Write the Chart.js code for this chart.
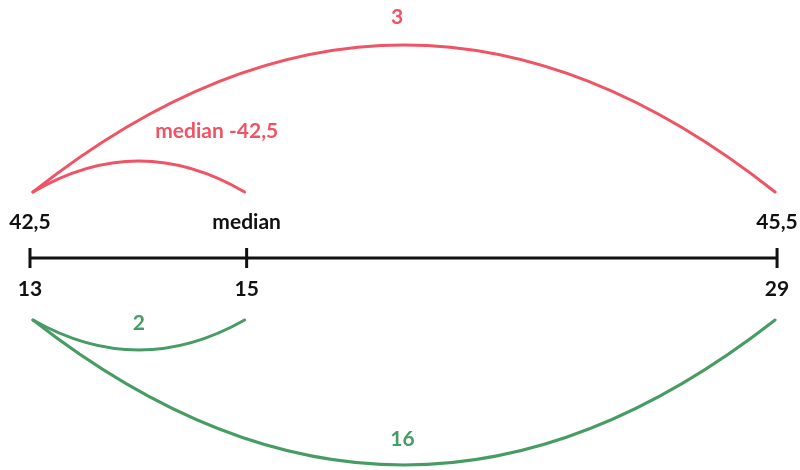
<!DOCTYPE html>
<html>
<head>
<meta charset="utf-8">
<script src="https://cdn.jsdelivr.net/npm/chart.js"></script>
<style>
body { margin: 0; background: #fff; }
#wrap { width: 800px; height: 470px; }
</style>
</head>
<body>
<div id="wrap"><canvas id="diag"></canvas></div>
<script>
// number line: tick places, values under it, labels above it
var tickPos = [0, 2.03, 7];
var valueLabels = ['13', '15', '29'];
var topLabels = ['42,5', 'median', '45,5'];

// arcs above the line (red) : [from tick, to tick]
var upArcs = [[0, 2], [0, 1]];
var upArcLabels = ['3', 'median -42,5'];
var upArcHeights = [147, 31];

// arcs below the line (green)
var downArcs = [[0, 1], [0, 2]];
var downArcLabels = ['2', '16'];
var downArcHeights = [30, 145];

var red = '#ef5364';
var green = '#479c64';
var ink = '#111';
var font = 'bold 21px Lato';

// where the arc labels sit (data units)
var upLabelPos = [[3.44, 241], [1.75, 127]];
var downLabelPos = [[1.02, -65], [3.49, -181]];

function drawArc(ctx, xs, ys, from, to, base, h, dir) {
    var x0 = xs.getPixelForValue(from) + 3;
    var x1 = xs.getPixelForValue(to) - 2;
    var y0 = ys.getPixelForValue(base);
    var apex = ys.getPixelForValue(base + dir * h);
    ctx.beginPath();
    ctx.moveTo(x0, y0);
    ctx.quadraticCurveTo((x0 + x1) / 2, 2 * apex - y0, x1, y0);
    ctx.stroke();
}

var diagram = {
    id: 'diagram',
    afterDatasetsDraw: function(chart) {
        var ctx = chart.ctx;
        var xs = chart.scales.x, ys = chart.scales.y;
        ctx.save();
        ctx.lineWidth = 3;
        ctx.lineCap = 'round';

        ctx.strokeStyle = red;
        for (var i = 0; i < upArcs.length; i++) {
            drawArc(ctx, xs, ys, tickPos[upArcs[i][0]], tickPos[upArcs[i][1]], 66, upArcHeights[i], 1);
        }
        ctx.strokeStyle = green;
        for (var j = 0; j < downArcs.length; j++) {
            drawArc(ctx, xs, ys, tickPos[downArcs[j][0]], tickPos[downArcs[j][1]], -62, downArcHeights[j], -1);
        }

        ctx.font = font;
        ctx.textAlign = 'center';
        ctx.textBaseline = 'middle';
        ctx.fillStyle = ink;
        for (var k = 0; k < tickPos.length; k++) {
            var px = xs.getPixelForValue(tickPos[k]);
            ctx.fillText(topLabels[k], px, ys.getPixelForValue(36));
            ctx.fillText(valueLabels[k], px, ys.getPixelForValue(-31));
        }
        ctx.fillStyle = red;
        for (var a = 0; a < upArcLabels.length; a++) {
            ctx.fillText(upArcLabels[a], xs.getPixelForValue(upLabelPos[a][0]), ys.getPixelForValue(upLabelPos[a][1]));
        }
        ctx.fillStyle = green;
        for (var b = 0; b < downArcLabels.length; b++) {
            ctx.fillText(downArcLabels[b], xs.getPixelForValue(downLabelPos[b][0]), ys.getPixelForValue(downLabelPos[b][1]));
        }
        ctx.restore();
    }
};

var ctx = document.getElementById('diag').getContext('2d');
var chart = new Chart(ctx, {
    type: 'scatter',
    data: {
        datasets: [{
            type: 'line',
            data: [{x: tickPos[0], y: 0}, {x: tickPos[tickPos.length - 1], y: 0}],
            borderColor: ink,
            borderWidth: 3,
            pointRadius: 0
        },
        {
            data: tickPos.map(function(t) { return {x: t, y: 0}; }),
            pointStyle: 'line',
            rotation: 90,
            radius: 10,
            borderColor: ink,
            borderWidth: 3
        }]
    },
    options: {
        responsive: true,
        maintainAspectRatio: false,
        animation: false,
        layout: { padding: 0, autoPadding: false },
        plugins: { legend: { display: false }, tooltip: { enabled: false } },
        scales: {
            x: { type: 'linear', display: false, min: -0.281, max: 7.215 },
            y: { type: 'linear', display: false, min: -212, max: 258 }
        }
    },
    plugins: [diagram]
});
</script>
</body>
</html>
